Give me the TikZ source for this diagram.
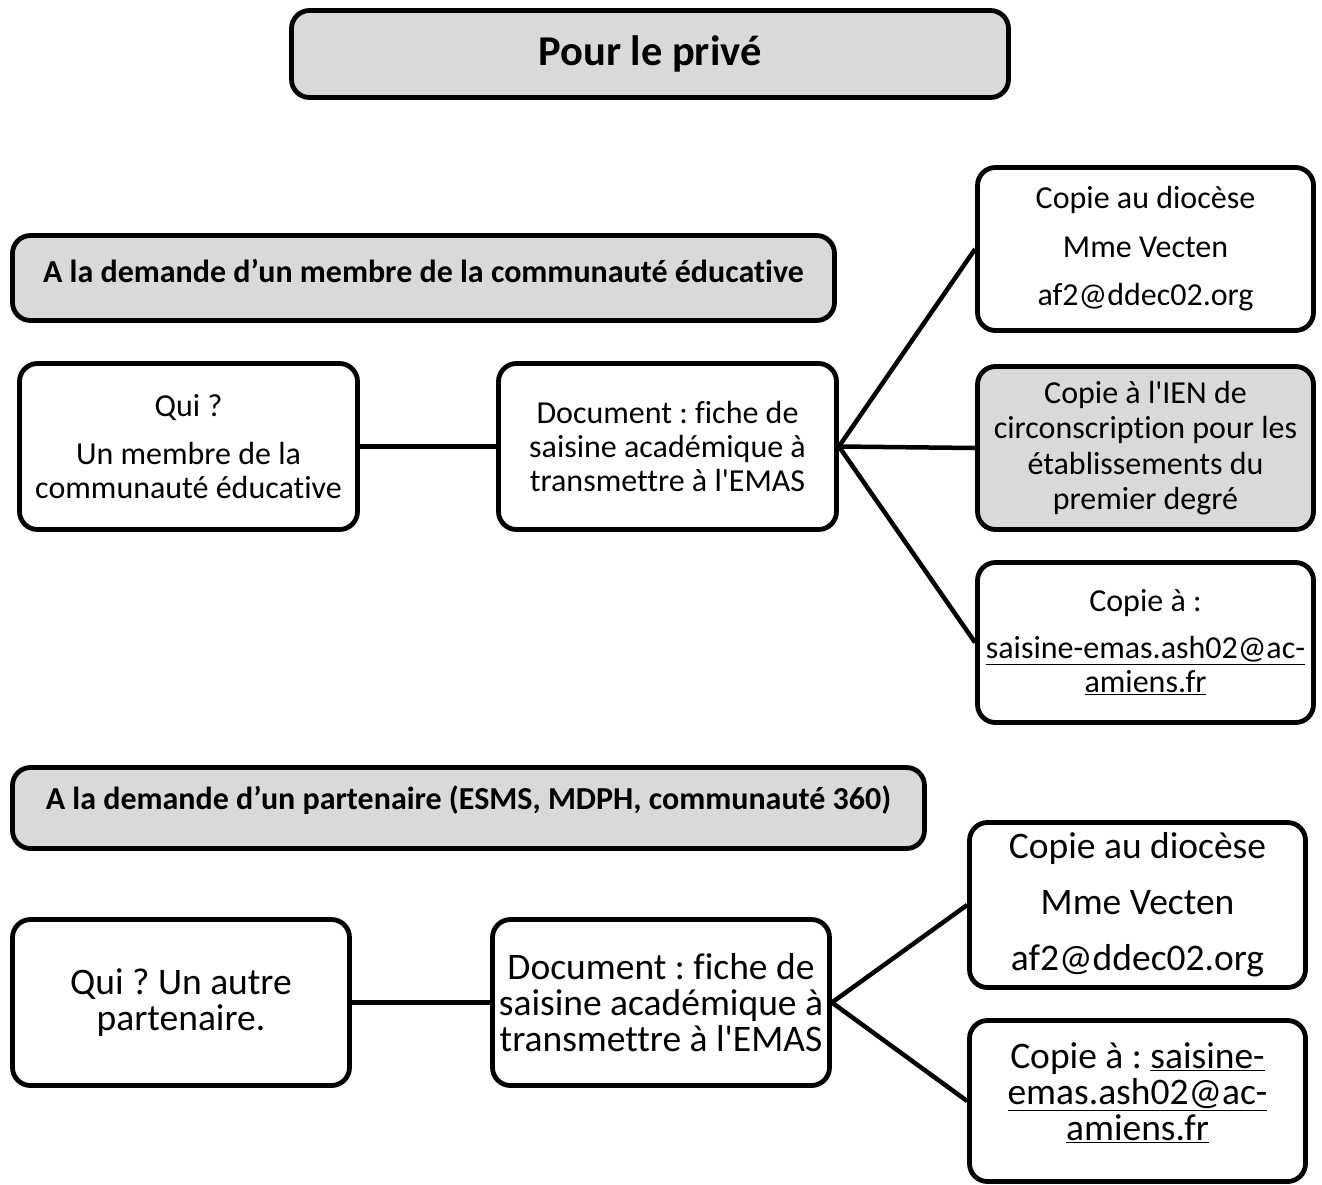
\documentclass[tikz,border=0pt]{standalone}
\usepackage{fontspec}
\setmainfont{Carlito}[Ligatures={NoCommon}]
\definecolor{boxgray}{HTML}{D9D9D9}
\frenchspacing
\begin{document}
\begin{tikzpicture}[x=1pt,y=-1pt,
  box/.style={draw=black, line width=4.8pt, rounded corners=18pt, inner sep=0pt, align=center, fill=white},
  graybox/.style={box, fill=boxgray},
  conn/.style={line width=4.5pt},
  small/.style={font=\fontsize{32}{34}\selectfont},
  big/.style={font=\fontsize{37.5}{36}\selectfont},
  hdr/.style={font=\bfseries\fontsize{32}{36}\selectfont}]
\useasboundingbox (0,0) rectangle (1322,1184);
% title
\node[graybox, minimum width=717pt, minimum height=87pt, font=\bfseries\fontsize{42.5}{46}\selectfont] (title) at (650,54) {Pour le privé};
% section 1
\node[graybox, minimum width=822pt, minimum height=85pt,
  label={[hdr, yshift=7pt]center:A la demande d’un membre de la communauté éducative}] (h1) at (423.5,278) {};
\node[box, small, minimum width=338pt, minimum height=166pt] (q1) at (188.5,446.5)
  {Qui ?\\[14pt] Un membre de la\\ communauté éducative};
\node[box, small, minimum width=338pt, minimum height=166pt] (d1) at (667.5,446.5)
  {Document : fiche de\\ saisine académique à\\ transmettre à l\textquotesingle EMAS};
\node[box, small, minimum width=336pt, minimum height=163pt] (ca) at (1145.5,249)
  {Copie au diocèse\\[15pt] Mme Vecten\\[14pt] af2@ddec02.org};
\node[graybox, minimum width=336pt, minimum height=163pt, font=\fontsize{32}{35.5}\selectfont] (cb) at (1145.5,448)
  {Copie à l\textquotesingle IEN de\\ circonscription pour les\\ établissements du\\ premier degré};
\node[box, small, minimum width=336pt, minimum height=160pt] (cc) at (1145.5,642.5)
  {Copie à :\\[13pt] \underline{saisine-emas.ash02@ac-}\\ \underline{amiens.fr}};
\draw[conn] (q1.east) -- (d1.west);
\draw[conn] (d1.east) -- (ca.west);
\draw[conn] (d1.east) -- (cb.west);
\draw[conn] (d1.east) -- (cc.west);
% section 2
\node[graybox, minimum width=912pt, minimum height=81pt,
  label={[hdr, yshift=8pt]center:A la demande d’un partenaire (ESMS, MDPH, communauté 360)}] (h2) at (468.5,808) {};
\node[box, big, minimum width=337pt, minimum height=166pt] (q2) at (181,1002.5)
  {Qui ? Un autre\\ partenaire.};
\node[box, big, minimum width=337pt, minimum height=166pt] (d2) at (661,1002.5)
  {Document : fiche de\\ saisine académique à\\ transmettre à l\textquotesingle EMAS};
\node[box, minimum width=336pt, minimum height=165pt, font=\fontsize{37.5}{56}\selectfont] (cd) at (1137.5,905)
  {Copie au diocèse\\ Mme Vecten\\ af2@ddec02.org};
\node[box, minimum width=336pt, minimum height=161pt,
  label={[big, yshift=8pt, align=center]center:Copie à : \underline{saisine-}\\ \underline{emas.ash02@ac-}\\ \underline{amiens.fr}}] (ce) at (1137.5,1101) {};
\draw[conn] (q2.east) -- (d2.west);
\draw[conn] (d2.east) -- (cd.west);
\draw[conn] (d2.east) -- (ce.west);
\end{tikzpicture}
\end{document}
